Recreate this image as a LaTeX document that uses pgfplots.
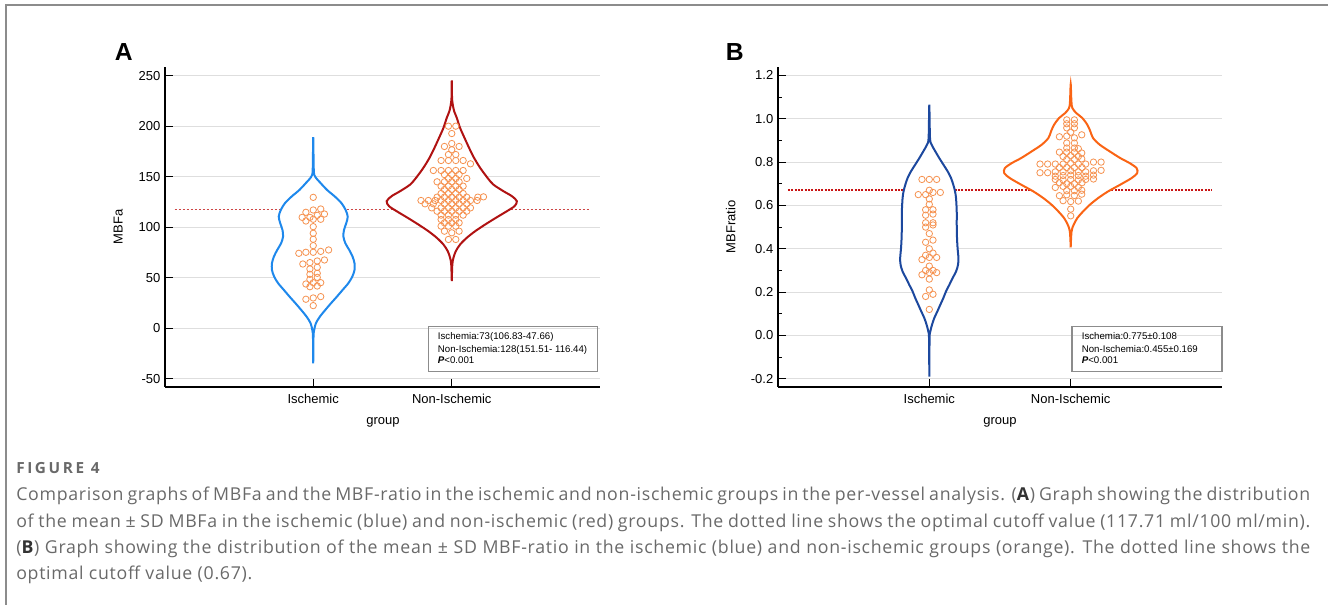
\documentclass[border=0pt]{standalone}
\usepackage{pgfplots}
\pgfplotsset{compat=1.18}
\usepackage{pgfplotstable}
\usepackage{fontspec}
\setmainfont{Liberation Sans}
\newfontfamily\capfont{Open Sans}[LetterSpace=4]
\newfontfamily\figfont{Open Sans}[LetterSpace=17]

\definecolor{blueA}{RGB}{30,136,236}
\definecolor{redA}{RGB}{176,18,18}
\definecolor{blueB}{RGB}{28,72,158}
\definecolor{orangeB}{RGB}{250,100,20}
\definecolor{dotc}{RGB}{246,146,80}
\definecolor{cutA}{RGB}{205,70,70}
\definecolor{cutB}{RGB}{200,20,20}
\definecolor{capgray}{RGB}{105,105,105}
\definecolor{boxgray}{RGB}{140,140,140}

% violin outlines: v = value, d = signed half width (left side upward, right side downward)
\pgfplotstableread{
v d
-34.8 0
-8.4 -0.002
-1.8 -0.007
4.8 -0.019
11.4 -0.048
18 -0.087
24.6 -0.128
31.2 -0.171
37.8 -0.212
44.4 -0.253
51 -0.282
57.6 -0.298
64.2 -0.298
70.8 -0.284
77.4 -0.26
84 -0.232
90.6 -0.218
97.2 -0.222
103.8 -0.238
110.4 -0.249
117 -0.234
123.6 -0.205
130.2 -0.157
136.8 -0.10
143.4 -0.055
150 -0.014
156.6 -0.004
189 0
156.6 0.004
150 0.014
143.4 0.055
136.8 0.10
130.2 0.157
123.6 0.205
117 0.234
110.4 0.249
103.8 0.238
97.2 0.222
90.6 0.218
84 0.232
77.4 0.26
70.8 0.284
64.2 0.298
57.6 0.298
51 0.282
44.4 0.253
37.8 0.212
31.2 0.171
24.6 0.128
18 0.087
11.4 0.048
4.8 0.019
-1.8 0.007
-8.4 0.002
-34.8 0
}\violAisch

\pgfplotstableread{
v d
46.5 0
63 -0.004
69.6 -0.012
76.2 -0.029
82.8 -0.060
89.4 -0.108
96 -0.169
102.6 -0.241
109.2 -0.318
115.8 -0.398
120.8 -0.453
125.7 -0.470
130.7 -0.434
135.6 -0.373
142.2 -0.300
148.8 -0.258
158.7 -0.205
168.6 -0.161
178.5 -0.125
188.4 -0.092
198.3 -0.060
208.3 -0.036
214.9 -0.017
221.5 -0.007
228 -0.002
245.2 0
228 0.002
221.5 0.007
214.9 0.017
208.3 0.036
198.3 0.060
188.4 0.092
178.5 0.125
168.6 0.161
158.7 0.205
148.8 0.258
142.2 0.300
135.6 0.373
130.7 0.434
125.7 0.470
120.8 0.453
115.8 0.398
109.2 0.318
102.6 0.241
96 0.169
89.4 0.108
82.8 0.060
76.2 0.029
69.6 0.012
63 0.004
46.5 0
}\violAnon

\pgfplotstableread{
v d
-0.19 0
-0.012 -0.002
0.018 -0.007
0.049 -0.019
0.08 -0.035
0.111 -0.057
0.142 -0.078
0.172 -0.099
0.203 -0.118
0.234 -0.142
0.265 -0.165
0.295 -0.189
0.326 -0.203
0.357 -0.206
0.403 -0.200
0.449 -0.196
0.511 -0.194
0.572 -0.194
0.634 -0.189
0.665 -0.182
0.695 -0.170
0.726 -0.154
0.757 -0.130
0.788 -0.100
0.818 -0.071
0.849 -0.043
0.880 -0.017
0.911 -0.005
1.065 0
0.911 0.005
0.880 0.017
0.849 0.043
0.818 0.071
0.788 0.100
0.757 0.130
0.726 0.154
0.695 0.170
0.665 0.182
0.634 0.189
0.572 0.194
0.511 0.194
0.449 0.196
0.403 0.200
0.357 0.206
0.326 0.203
0.295 0.189
0.265 0.165
0.234 0.142
0.203 0.118
0.172 0.099
0.142 0.078
0.111 0.057
0.08 0.035
0.049 0.019
0.018 0.007
-0.012 0.002
-0.19 0
}\violBisch

\pgfplotstableread{
v d
0.406 0
0.48 -0.006
0.511 -0.021
0.542 -0.047
0.572 -0.087
0.603 -0.135
0.634 -0.194
0.665 -0.265
0.695 -0.348
0.726 -0.430
0.749 -0.470
0.772 -0.466
0.795 -0.418
0.818 -0.352
0.849 -0.277
0.880 -0.206
0.911 -0.158
0.942 -0.139
0.972 -0.118
1.003 -0.083
1.026 -0.040
1.049 -0.012
1.08 -0.005
1.16 0
1.08 0.005
1.049 0.012
1.026 0.040
1.003 0.083
0.972 0.118
0.942 0.139
0.911 0.158
0.880 0.206
0.849 0.277
0.818 0.352
0.795 0.418
0.772 0.466
0.749 0.470
0.726 0.430
0.695 0.348
0.665 0.265
0.634 0.194
0.603 0.135
0.572 0.087
0.542 0.047
0.511 0.021
0.48 0.006
0.406 0
}\violBnon

% individual observations: dx = horizontal offset from the group centre
\pgfplotstableread{
dx v
0 129.5
-0.053 114.7
0 117
0.054 118
-0.08 109.7
-0.024 109.7
0.029 111.7
0.081 113
-0.053 106.1
0 107.8
0.054 107.8
0 100.5
0 93.9
0 88
0 81.7
-0.104 74.1
-0.053 75.1
0 75.1
0.054 76
0.111 77.4
-0.075 63.5
-0.024 64.9
0.029 66.5
0.081 67.5
-0.024 58.6
0.029 60.2
-0.024 53.3
0.029 54.3
-0.024 48.3
0.029 50.3
-0.053 43.7
0 45
0.054 45
-0.024 41
0.029 41.7
-0.053 28.6
0 29.9
0.054 31.2
0 22.3
}\ptsAisch

\pgfplotstableread{
dx v
-0.024 200
0.029 200
0 192.7
0 182.8
-0.053 179.9
0.053 179.9
0 176.6
-0.024 171.9
0.029 171.9
-0.077 166
-0.024 166
0.029 166
0.082 166
0.135 162.7
-0.133 156.1
-0.077 156.1
-0.024 156.1
0.029 156.1
0.082 156.1
-0.053 152.1
0 152.1
0.053 152.1
-0.024 148.2
0.029 148.2
0.108 148.2
-0.106 144.9
-0.053 144.9
0 144.9
0.053 144.9
-0.077 140.6
-0.024 140.6
0.029 140.6
0.082 140.6
-0.053 137.3
0 137.3
0.053 137.3
-0.077 133.3
-0.024 133.3
0.029 133.3
0.082 133.3
-0.106 129.7
-0.053 129.7
0 129.7
0.053 129.7
0.108 129.7
0.188 129.7
0.229 130
-0.222 126.4
-0.169 126.4
-0.12 126.4
-0.077 126.4
-0.024 126.4
0.029 126.4
0.082 126.4
0.135 126.4
0.183 126.4
-0.193 123.1
-0.133 123.1
-0.053 123.1
0 123.1
0.053 123.1
0.108 123.1
-0.145 119.1
-0.077 119.1
-0.024 119.1
0.029 119.1
0.082 119.1
0.135 119.1
-0.106 115.8
-0.053 115.8
0 115.8
0.053 115.8
0.108 115.8
-0.077 111.9
-0.024 111.9
0.029 111.9
0.082 111.9
-0.077 107.6
-0.024 107.6
0.029 107.6
-0.053 104.3
0 104.3
0.053 104.3
-0.077 101
-0.024 101
0.029 101
-0.053 96
0.053 96
0 94.4
-0.024 87.8
0.029 87.8
}\ptsAnon

\pgfplotstableread{
dx v
-0.052 0.72
0 0.72
0.052 0.72
-0.078 0.65
-0.026 0.65
0 0.67
0.026 0.66
0.078 0.66
0 0.63
0 0.605
-0.026 0.58
0.026 0.58
-0.026 0.555
0.026 0.56
-0.026 0.52
0.026 0.52
0.026 0.51
-0.026 0.50
0 0.47
0.026 0.44
-0.026 0.43
0 0.40
0.026 0.38
-0.026 0.37
-0.052 0.35
0 0.36
0.052 0.36
0 0.32
-0.026 0.30
0.026 0.30
-0.052 0.28
0 0.29
0.052 0.29
0 0.26
0 0.21
-0.026 0.18
0.026 0.19
0 0.12
}\ptsBisch

\pgfplotstableread{
dx v
-0.028 0.995
0.026 0.995
-0.028 0.977
0.026 0.977
-0.028 0.958
0.026 0.958
0 0.938
-0.080 0.917
0.078 0.926
-0.028 0.920
0.026 0.912
-0.028 0.888
0.026 0.888
-0.028 0.865
0.026 0.865
0.054 0.862
-0.080 0.846
-0.028 0.846
0.026 0.846
0.078 0.842
-0.054 0.826
0 0.830
0.054 0.826
-0.028 0.812
0.026 0.812
0.078 0.815
-0.217 0.791
-0.163 0.791
-0.109 0.791
-0.054 0.791
0 0.795
0.054 0.791
0.106 0.791
0.161 0.800
0.215 0.800
-0.080 0.775
-0.028 0.775
0.026 0.775
0.080 0.775
-0.217 0.751
-0.163 0.751
-0.109 0.755
-0.054 0.755
0 0.760
0.054 0.755
0.106 0.755
0.161 0.760
0.215 0.762
-0.109 0.735
-0.054 0.738
0 0.740
0.054 0.738
0.106 0.735
0.161 0.740
-0.109 0.720
-0.054 0.718
0 0.720
0.054 0.718
0.106 0.720
0.161 0.722
-0.080 0.705
-0.028 0.700
0.026 0.700
0.080 0.705
-0.109 0.683
-0.054 0.688
0 0.688
0.054 0.683
-0.028 0.668
0.026 0.668
0.078 0.670
-0.080 0.645
-0.028 0.649
0.026 0.646
0.078 0.652
-0.054 0.622
0 0.618
0.054 0.620
0 0.583
0 0.552
}\ptsBnon

\pgfplotsset{
  vio/.style={
    scale only axis, height=240pt, anchor=south west,
    axis x line*=bottom, axis y line*=left,
    xmin=-0.07, xmax=3.07,
    xtick={1,2}, xticklabels={Ischemic,Non-Ischemic},
    xticklabel style={yshift=-2pt},
    ymajorgrids, grid style={line width=0.6pt, color=black!13},
    major tick length=6pt, minor tick length=3pt,
    tick style={black, line width=0.75pt},
    x axis line style={black, line width=1.6pt},
    y axis line style={black, line width=1.1pt},
    tick label style={font=\fontsize{9.75}{11}\selectfont},
    /pgf/number format/assume math mode=true,
  },
  viol/.style={line width=1.5pt, fill=white, smooth, tension=0.5},
  dots/.style={only marks, mark=o, mark size=2.4pt, color=dotc, mark options={line width=0.6pt}},
}

\begin{document}
\begin{tikzpicture}
% 1 unit of the scope = 1 pixel of the 1328 x 605 picture
\begin{scope}[x=0.75pt,y=0.75pt]
\path[use as bounding box] (0,0) rectangle (1328,-605);
\draw[black!45, line width=0.8pt] (6,-605) -- (6,-5) -- (1328,-5);
\end{scope}

% panel A
\begin{axis}[vio, at={(123.75pt,-290.25pt)}, width=326.25pt,
  ymin=-58.3, ymax=258.6, ytick={-50,0,50,100,150,200,250}]
\addplot[cutA, line width=1.1pt, dash pattern=on 2pt off 1pt] coordinates {(0,117.71) (3,117.71)};
\addplot[viol, draw=blueA] table[x expr=1+\thisrow{d}, y=v] {\violAisch};
\addplot[viol, draw=redA] table[x expr=2+\thisrow{d}, y=v] {\violAnon};
\addplot[dots] table[x expr=1+\thisrow{dx}, y=v] {\ptsAisch};
\addplot[dots] table[x expr=2+\thisrow{dx}, y=v] {\ptsAnon};
\end{axis}

% panel B
\begin{axis}[vio, at={(583.5pt,-290.25pt)}, width=333pt,
  ymin=-0.238, ymax=1.239, ytick={-0.2,0,0.2,0.4,0.6,0.8,1.0,1.2},
  minor ytick={-0.1,0.1,0.3,0.5,0.7,0.9,1.1},
  yticklabel style={/pgf/number format/.cd, fixed, fixed zerofill, precision=1}]
\addplot[cutB, line width=1.4pt, dash pattern=on 1.5pt off 1pt] coordinates {(0,0.67) (3,0.67)};
\addplot[viol, draw=blueB] table[x expr=1+\thisrow{d}, y=v] {\violBisch};
\addplot[viol, draw=orangeB] table[x expr=2+\thisrow{d}, y=v] {\violBnon};
\addplot[dots] table[x expr=1+\thisrow{dx}, y=v] {\ptsBisch};
\addplot[dots] table[x expr=2+\thisrow{dx}, y=v] {\ptsBnon};
\end{axis}

\begin{scope}[x=0.75pt,y=0.75pt]
% axis titles and panel letters
\begin{scope}[every node/.style={font=\fontsize{9.75}{11}\selectfont}]
\node[rotate=90] at (118.3,-226.7) {MBFa};
\node at (383,-422.7) {group};
\node[rotate=90] at (730.7,-227) {MBFratio};
\node at (1000,-422.7) {group};
\end{scope}
\node[anchor=base, font=\bfseries\fontsize{18.5}{20}\selectfont] at (123.8,-61) {A};
\node[anchor=base, font=\bfseries\fontsize{18.5}{20}\selectfont] at (734.7,-61) {B};

% statistics boxes
\draw[boxgray, line width=0.9pt] (428.3,-326.7) rectangle (597.3,-371.3);
\draw[boxgray, line width=0.9pt] (1072,-326.7) rectangle (1222,-371.3);
\begin{scope}[every node/.style={anchor=base west, inner sep=0, font=\fontsize{7.25}{8}\selectfont}]
\node at (437.7,-340) {Ischemia:73(106.83-47.66)};
\node at (437.7,-352.3) {Non-Ischemia:128(151.51- 116.44)};
\node at (437.7,-364) {\textbf{\textit{P}}<0.001};
\node at (1081.6,-340) {Ischemia:0.775±0.108};
\node at (1081.6,-352.3) {Non-Ischemia:0.455±0.169};
\node at (1081.6,-364) {\textbf{\textit{P}}<0.001};
\end{scope}

% caption
\node[anchor=base west, inner sep=0, text=capgray, font=\figfont\bfseries\fontsize{11.5}{12}\selectfont] at (16,-473.5) {FIGURE 4};
\begin{scope}[every node/.style={anchor=base west, inner sep=0, text=capgray, font=\capfont\fontsize{13.3}{15}\selectfont}]
\node at (16,-501) {\makebox[970.5pt][s]{Comparison graphs of MBFa and the MBF-ratio in the ischemic and non-ischemic groups in the per-vessel analysis. ({\color{black!80}\textbf{A}}) Graph showing the distribution}};
\node at (16,-527.3) {\makebox[970.5pt][s]{of the mean ± SD MBFa in the ischemic (blue) and non-ischemic (red) groups. The dotted line shows the optimal cutoff value (117.71 ml/100 ml/min).}};
\node at (16,-553.3) {\makebox[970.5pt][s]{({\color{black!80}\textbf{B}}) Graph showing the distribution of the mean ± SD MBF-ratio in the ischemic (blue) and non-ischemic groups (orange). The dotted line shows the}};
\node at (16,-579.3) {optimal cutoff value (0.67).};
\end{scope}
\end{scope}
\end{tikzpicture}
\end{document}
